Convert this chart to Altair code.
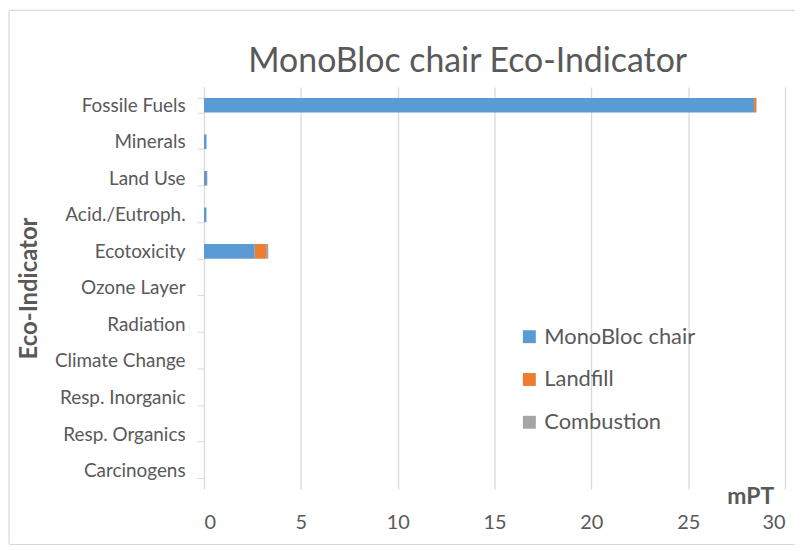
import altair as alt
import pandas as pd

categories = ["Fossile Fuels", "Minerals", "Land Use", "Acid./Eutroph.", "Ecotoxicity",
              "Ozone Layer", "Radiation", "Climate Change", "Resp. Inorganic",
              "Resp. Organics", "Carcinogens"]
series = ["MonoBloc chair", "Landfill", "Combustion"]
monobloc = [28.4, 0.13, 0.15, 0.12, 2.62, 0.0, 0.0, 0.0, 0.0, 0.0, 0.0]
landfill = [0.12, 0.0, 0.02, 0.01, 0.58, 0.0, 0.0, 0.0, 0.0, 0.0, 0.0]
combustion = [0.01, 0.0, 0.0, 0.0, 0.12, 0.0, 0.0, 0.0, 0.0, 0.0, 0.0]
colors = ["#5B9BD5", "#ED7D31", "#A5A5A5"]
x_ticks = [0, 5, 10, 15, 20, 25, 30]

rows = []
for i, c in enumerate(categories):
    for k, (s, vals) in enumerate(zip(series, [monobloc, landfill, combustion])):
        rows.append({"cat": c, "series": s, "value": vals[i], "ord": k})
df = pd.DataFrame(rows)

FONT = "Lato"
TXT = "#595959"
GRID = "#D9D9D9"

bars = alt.Chart(df).mark_bar().encode(
    y=alt.Y("cat:N", sort=categories,
            scale=alt.Scale(paddingInner=0.6, paddingOuter=0.3),
            axis=alt.Axis(title="Eco-Indicator", titleFontSize=24, titleFontWeight="bold",
                          titleColor=TXT, titleFont=FONT, titleAngle=-90,
                          titleX=-175, titleY=202, titleAlign="center", titleBaseline="middle",
                          labelFont=FONT, labelFontSize=19, labelColor=TXT, labelPadding=12,
                          domainColor=GRID, tickColor=GRID, tickSize=7, tickBand="extent",
                          grid=False)),
    x=alt.X("value:Q", stack="zero",
            scale=alt.Scale(domain=[0, 30], nice=False),
            axis=alt.Axis(values=x_ticks, title="mPT", titleFontSize=23, titleFontWeight="bold",
                          titleColor=TXT, titleFont=FONT, titleX=549, titleY=8,
                          titleAlign="center", titleBaseline="middle", titleAngle=0,
                          labelFont=FONT, labelFontSize=20, labelColor=TXT, labelPadding=24,
                          domain=False, ticks=False, grid=True, gridColor=GRID, gridWidth=1.3)),
    color=alt.Color("series:N", sort=series,
                    scale=alt.Scale(domain=series, range=colors),
                    legend=alt.Legend(title=None, orient="none", legendX=316, legendY=240,
                                      symbolType="square", symbolSize=169, symbolStrokeWidth=0,
                                      labelFont=FONT, labelFontSize=22, labelColor=TXT,
                                      rowPadding=21, labelOffset=4)),
    order=alt.Order("ord:Q"),
)

frame = alt.Chart(pd.DataFrame({"a": [0]})).mark_rect(
    fill=None, stroke=GRID, strokeWidth=1.2, cornerRadius=2
).encode(x=alt.value(-196), x2=alt.value(596), y=alt.value(-77), y2=alt.value(460))

chart = alt.layer(frame, bars).properties(
    width=584, height=404,
    title=alt.TitleParams("MonoBloc chair Eco-Indicator", font=FONT, fontSize=34,
                          fontWeight="normal", color=TXT, anchor="middle", dx=-27, dy=82,
                          offset=12),
    autosize=alt.AutoSizeParams(type="none"),
    padding={"left": 197, "top": 78, "right": 10, "bottom": 55},
).configure_view(stroke=None)

chart.save("out.html", embed_options={"renderer": "svg", "actions": False})
